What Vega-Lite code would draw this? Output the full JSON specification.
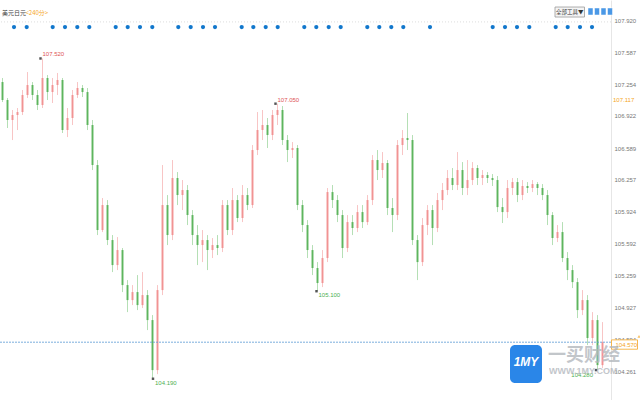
{
  "$schema": "https://vega.github.io/schema/vega-lite/v6.json",
  "width": 611,
  "height": 400,
  "autosize": {"type": "none"},
  "padding": {"left": 0, "top": 0, "right": 29, "bottom": 0},
  "background": "#ffffff",
  "config": {"view": {"stroke": null}, "font": "Liberation Sans, Noto Sans CJK SC", "scale": {"continuousPadding": 0}, "axis": {"labelOverlap": false}},
  "datasets": {
    "one": [{}],
    "k": [
      {"i":0,"o":107.275,"h":107.317,"l":107.067,"c":107.088},
      {"i":1,"o":107.088,"h":107.109,"l":106.797,"c":106.880},
      {"i":2,"o":106.880,"h":106.984,"l":106.672,"c":106.932},
      {"i":3,"o":106.932,"h":107.005,"l":106.776,"c":106.963},
      {"i":4,"o":106.963,"h":107.192,"l":106.932,"c":107.140},
      {"i":5,"o":107.140,"h":107.379,"l":107.109,"c":107.244},
      {"i":6,"o":107.244,"h":107.275,"l":107.088,"c":107.140},
      {"i":7,"o":107.140,"h":107.192,"l":106.984,"c":107.036},
      {"i":8,"o":107.036,"h":107.520,"l":107.005,"c":107.317},
      {"i":9,"o":107.317,"h":107.348,"l":107.088,"c":107.171},
      {"i":10,"o":107.171,"h":107.317,"l":107.057,"c":107.244},
      {"i":11,"o":107.244,"h":107.369,"l":107.140,"c":107.296},
      {"i":12,"o":107.296,"h":107.317,"l":106.745,"c":106.776},
      {"i":13,"o":106.776,"h":107.005,"l":106.703,"c":106.901},
      {"i":14,"o":106.901,"h":107.192,"l":106.828,"c":107.140},
      {"i":15,"o":107.140,"h":107.275,"l":107.109,"c":107.213},
      {"i":16,"o":107.213,"h":107.244,"l":107.119,"c":107.171},
      {"i":17,"o":107.171,"h":107.213,"l":106.776,"c":106.828},
      {"i":18,"o":106.828,"h":106.880,"l":106.360,"c":106.412},
      {"i":19,"o":106.412,"h":106.464,"l":105.684,"c":105.736},
      {"i":20,"o":105.736,"h":106.069,"l":105.715,"c":105.996},
      {"i":21,"o":105.996,"h":106.048,"l":105.580,"c":105.632},
      {"i":22,"o":105.632,"h":105.684,"l":105.299,"c":105.372},
      {"i":23,"o":105.372,"h":105.663,"l":105.320,"c":105.528},
      {"i":24,"o":105.528,"h":105.549,"l":105.091,"c":105.164},
      {"i":25,"o":105.164,"h":105.216,"l":104.883,"c":105.008},
      {"i":26,"o":105.008,"h":105.164,"l":104.956,"c":105.091},
      {"i":27,"o":105.091,"h":105.268,"l":104.904,"c":104.956},
      {"i":28,"o":104.956,"h":105.299,"l":104.925,"c":105.060},
      {"i":29,"o":105.060,"h":105.112,"l":104.696,"c":104.800},
      {"i":30,"o":104.800,"h":104.852,"l":104.190,"c":104.280},
      {"i":31,"o":104.280,"h":105.164,"l":104.238,"c":105.112},
      {"i":32,"o":105.112,"h":106.412,"l":105.060,"c":105.996},
      {"i":33,"o":105.996,"h":106.100,"l":105.580,"c":105.684},
      {"i":34,"o":105.684,"h":106.464,"l":105.632,"c":106.277},
      {"i":35,"o":106.277,"h":106.339,"l":105.996,"c":106.100},
      {"i":36,"o":106.100,"h":106.256,"l":105.944,"c":106.152},
      {"i":37,"o":106.152,"h":106.204,"l":105.788,"c":105.892},
      {"i":38,"o":105.892,"h":105.944,"l":105.580,"c":105.684},
      {"i":39,"o":105.684,"h":105.788,"l":105.372,"c":105.580},
      {"i":40,"o":105.580,"h":105.736,"l":105.403,"c":105.632},
      {"i":41,"o":105.632,"h":105.684,"l":105.320,"c":105.528},
      {"i":42,"o":105.528,"h":105.653,"l":105.445,"c":105.580},
      {"i":43,"o":105.580,"h":105.684,"l":105.476,"c":105.549},
      {"i":44,"o":105.549,"h":106.048,"l":105.507,"c":105.996},
      {"i":45,"o":105.996,"h":106.048,"l":105.684,"c":105.736},
      {"i":46,"o":105.736,"h":106.173,"l":105.684,"c":106.048},
      {"i":47,"o":106.048,"h":106.100,"l":105.819,"c":105.861},
      {"i":48,"o":105.861,"h":106.204,"l":105.819,"c":106.100},
      {"i":49,"o":106.100,"h":106.173,"l":105.944,"c":105.996},
      {"i":50,"o":105.996,"h":106.620,"l":105.965,"c":106.568},
      {"i":51,"o":106.568,"h":106.963,"l":106.516,"c":106.776},
      {"i":52,"o":106.776,"h":106.984,"l":106.672,"c":106.828},
      {"i":53,"o":106.828,"h":106.901,"l":106.589,"c":106.724},
      {"i":54,"o":106.724,"h":106.984,"l":106.672,"c":106.932},
      {"i":55,"o":106.932,"h":107.050,"l":106.828,"c":106.984},
      {"i":56,"o":106.984,"h":107.026,"l":106.620,"c":106.672},
      {"i":57,"o":106.672,"h":106.724,"l":106.443,"c":106.568},
      {"i":58,"o":106.568,"h":106.651,"l":106.485,"c":106.589},
      {"i":59,"o":106.589,"h":106.620,"l":105.944,"c":105.996},
      {"i":60,"o":105.996,"h":106.048,"l":105.715,"c":105.788},
      {"i":61,"o":105.788,"h":105.840,"l":105.445,"c":105.528},
      {"i":62,"o":105.528,"h":105.580,"l":105.268,"c":105.341},
      {"i":63,"o":105.341,"h":105.403,"l":105.100,"c":105.185},
      {"i":64,"o":105.185,"h":105.528,"l":105.143,"c":105.445},
      {"i":65,"o":105.445,"h":106.173,"l":105.403,"c":106.131},
      {"i":66,"o":106.131,"h":106.204,"l":105.965,"c":106.048},
      {"i":67,"o":106.048,"h":106.100,"l":105.819,"c":105.892},
      {"i":68,"o":105.892,"h":105.944,"l":105.445,"c":105.549},
      {"i":69,"o":105.549,"h":105.892,"l":105.507,"c":105.819},
      {"i":70,"o":105.819,"h":105.892,"l":105.684,"c":105.757},
      {"i":71,"o":105.757,"h":105.996,"l":105.715,"c":105.923},
      {"i":72,"o":105.923,"h":105.996,"l":105.757,"c":105.819},
      {"i":73,"o":105.819,"h":106.100,"l":105.788,"c":106.048},
      {"i":74,"o":106.048,"h":106.516,"l":105.996,"c":106.464},
      {"i":75,"o":106.464,"h":106.568,"l":106.256,"c":106.360},
      {"i":76,"o":106.360,"h":106.547,"l":106.277,"c":106.433},
      {"i":77,"o":106.433,"h":106.464,"l":105.892,"c":105.965},
      {"i":78,"o":105.965,"h":106.069,"l":105.715,"c":105.892},
      {"i":79,"o":105.892,"h":106.672,"l":105.840,"c":106.620},
      {"i":80,"o":106.620,"h":106.776,"l":106.516,"c":106.693},
      {"i":81,"o":106.693,"h":106.953,"l":106.568,"c":106.672},
      {"i":82,"o":106.672,"h":106.724,"l":105.580,"c":105.632},
      {"i":83,"o":105.632,"h":105.684,"l":105.216,"c":105.403},
      {"i":84,"o":105.403,"h":105.861,"l":105.362,"c":105.788},
      {"i":85,"o":105.788,"h":105.996,"l":105.684,"c":105.944},
      {"i":86,"o":105.944,"h":105.996,"l":105.580,"c":105.757},
      {"i":87,"o":105.757,"h":106.121,"l":105.715,"c":106.048},
      {"i":88,"o":106.048,"h":106.225,"l":105.944,"c":106.152},
      {"i":89,"o":106.152,"h":106.360,"l":106.100,"c":106.277},
      {"i":90,"o":106.277,"h":106.381,"l":106.152,"c":106.204},
      {"i":91,"o":106.204,"h":106.547,"l":106.152,"c":106.360},
      {"i":92,"o":106.360,"h":106.443,"l":106.100,"c":106.173},
      {"i":93,"o":106.173,"h":106.464,"l":106.100,"c":106.256},
      {"i":94,"o":106.256,"h":106.443,"l":106.204,"c":106.381},
      {"i":95,"o":106.381,"h":106.412,"l":106.204,"c":106.277},
      {"i":96,"o":106.277,"h":106.360,"l":106.204,"c":106.308},
      {"i":97,"o":106.308,"h":106.339,"l":106.225,"c":106.277},
      {"i":98,"o":106.277,"h":106.318,"l":106.194,"c":106.256},
      {"i":99,"o":106.256,"h":106.298,"l":105.923,"c":105.975},
      {"i":100,"o":105.975,"h":106.069,"l":105.809,"c":105.923},
      {"i":101,"o":105.923,"h":106.256,"l":105.861,"c":106.173},
      {"i":102,"o":106.173,"h":106.277,"l":106.100,"c":106.235},
      {"i":103,"o":106.235,"h":106.277,"l":106.027,"c":106.100},
      {"i":104,"o":106.100,"h":106.256,"l":106.048,"c":106.194},
      {"i":105,"o":106.194,"h":106.235,"l":106.121,"c":106.173},
      {"i":106,"o":106.173,"h":106.256,"l":106.131,"c":106.214},
      {"i":107,"o":106.214,"h":106.235,"l":106.100,"c":106.173},
      {"i":108,"o":106.173,"h":106.214,"l":106.048,"c":106.100},
      {"i":109,"o":106.100,"h":106.152,"l":105.788,"c":105.892},
      {"i":110,"o":105.892,"h":105.923,"l":105.580,"c":105.653},
      {"i":111,"o":105.653,"h":105.788,"l":105.611,"c":105.715},
      {"i":112,"o":105.715,"h":105.819,"l":105.403,"c":105.445},
      {"i":113,"o":105.445,"h":105.507,"l":105.216,"c":105.320},
      {"i":114,"o":105.320,"h":105.372,"l":105.133,"c":105.195},
      {"i":115,"o":105.195,"h":105.237,"l":104.821,"c":104.904},
      {"i":116,"o":104.904,"h":105.112,"l":104.852,"c":105.008},
      {"i":117,"o":105.008,"h":105.060,"l":104.540,"c":104.613},
      {"i":118,"o":104.613,"h":104.883,"l":104.540,"c":104.800},
      {"i":119,"o":104.800,"h":104.852,"l":104.280,"c":104.332},
      {"i":120,"o":104.332,"h":104.779,"l":104.301,"c":104.570}
    ],
    "ev": [
      {"i":2.3},{"i":4.84},{"i":10.04},{"i":12.5},{"i":14.96},{"i":17.36},
      {"i":22.64},{"i":25.04},{"i":27.5},{"i":29.96},{"i":35.16},{"i":37.64},
      {"i":40.1},{"i":42.5},{"i":47.84},{"i":50.16},{"i":52.64},{"i":55.04},
      {"i":60.36},{"i":62.76},{"i":65.24},{"i":67.64},{"i":72.96},{"i":75.36},
      {"i":77.76},{"i":80.16},{"i":85.5},{"i":98.04},{"i":100.5},{"i":102.9},
      {"i":105.36},{"i":110.64},{"i":113.04},{"i":115.5},{"i":117.9}
    ],
    "ann": [
      {"i":7.6,"v":107.520,"t":"107.520","kind":"high"},
      {"i":54.6,"v":107.050,"t":"107.050","kind":"high"},
      {"i":30.1,"v":104.190,"t":"104.190","kind":"low"},
      {"i":62.8,"v":105.100,"t":"105.100","kind":"low"},
      {"i":118.7,"v":104.280,"t":"104.280","kind":"lowL"}
    ],
    "icons": [
      {"a":117.1,"b":118.1},{"a":118.4,"b":119.4},{"a":119.7,"b":120.7},{"a":121.0,"b":122.0}
    ]
  },
  "layer": [
    {
      "data": {"name": "k"},
      "mark": {"type": "rule", "strokeWidth": 1, "opacity": 0.45},
      "encoding": {
        "x": {"field": "i", "type": "quantitative", "scale": {"domain": [-0.5, 121.7], "nice": false, "zero": false, "padding": 0}, "axis": null},
        "y": {"field": "l", "type": "quantitative", "title": null,
              "scale": {"domain": [103.969, 108.128], "nice": false, "zero": false},
              "axis": {"orient": "right", "values": [104.261, 104.594, 104.927, 105.259, 105.592, 105.924, 106.257, 106.589, 106.922, 107.254, 107.587, 107.92],
                       "tickCount": 30,
                       "format": ".3f", "labelFontSize": 6, "labelColor": "#777777", "ticks": false, "grid": false, "labelOverlap": false, "labelBound": false,
                       "domainColor": "#e6e6e6", "labelPadding": 3, "labelBaseline": "middle", "title": null}},
        "y2": {"field": "h"},
        "color": {"condition": {"test": "datum.c >= datum.o", "value": "#ef7f7f"}, "value": "#5cb85c"}
      }
    },
    {
      "data": {"name": "k"},
      "mark": {"type": "bar", "width": 2, "opacity": 0.85},
      "encoding": {
        "x": {"field": "i", "type": "quantitative"},
        "y": {"field": "o", "type": "quantitative", "title": null},
        "y2": {"field": "c"},
        "color": {"condition": {"test": "datum.c >= datum.o", "value": "#f08a8a"}, "value": "#4fae4f"}
      }
    },
    {
      "data": {"name": "one"},
      "mark": {"type": "rule", "color": "#dddddd", "strokeDash": [1, 2], "strokeWidth": 1},
      "encoding": {"y": {"datum": 107.9}}
    },
    {
      "data": {"name": "one"},
      "mark": {"type": "rule", "color": "#5b9bd5", "strokeDash": [2, 1], "strokeWidth": 1, "opacity": 0.8},
      "encoding": {"y": {"datum": 104.57}}
    },
    {
      "data": {"name": "ev"},
      "mark": {"type": "circle", "size": 18, "color": "#1177cc", "opacity": 1},
      "encoding": {"x": {"field": "i", "type": "quantitative"}, "y": {"datum": 107.847}}
    },
    {
      "data": {"name": "ann"},
      "mark": {"type": "square", "size": 6, "color": "#555555", "opacity": 1},
      "encoding": {"x": {"field": "i", "type": "quantitative"}, "y": {"field": "v", "type": "quantitative", "title": null}}
    },
    {
      "data": {"name": "ann"},
      "transform": [{"filter": "datum.kind == 'high'"}],
      "mark": {"type": "text", "align": "left", "baseline": "middle", "dx": 2, "dy": -4, "fontSize": 6, "color": "#e05555"},
      "encoding": {"x": {"field": "i", "type": "quantitative"}, "y": {"field": "v", "type": "quantitative", "title": null}, "text": {"field": "t"}}
    },
    {
      "data": {"name": "ann"},
      "transform": [{"filter": "datum.kind == 'low'"}],
      "mark": {"type": "text", "align": "left", "baseline": "middle", "dx": 2, "dy": 4, "fontSize": 6, "color": "#4caf50"},
      "encoding": {"x": {"field": "i", "type": "quantitative"}, "y": {"field": "v", "type": "quantitative", "title": null}, "text": {"field": "t"}}
    },
    {
      "data": {"name": "ann"},
      "transform": [{"filter": "datum.kind == 'lowL'"}],
      "mark": {"type": "text", "align": "right", "baseline": "middle", "dx": -3, "dy": 5, "fontSize": 6, "color": "#4caf50"},
      "encoding": {"x": {"field": "i", "type": "quantitative"}, "y": {"field": "v", "type": "quantitative", "title": null}, "text": {"field": "t"}}
    },
    {
      "data": {"name": "one"},
      "mark": {"type": "text", "align": "left", "baseline": "middle", "fontSize": 6, "color": "#444444", "font": "Noto Sans CJK SC", "text": "美元日元"},
      "encoding": {"x": {"datum": -0.1}, "y": {"datum": 107.993}}
    },
    {
      "data": {"name": "one"},
      "mark": {"type": "text", "align": "left", "baseline": "middle", "fontSize": 6, "color": "#f5a623", "font": "Noto Sans CJK SC", "text": "<240分>"},
      "encoding": {"x": {"datum": 4.6}, "y": {"datum": 107.993}}
    },
    {
      "data": {"name": "one"},
      "mark": {"type": "rect", "fill": "#f4f4f4", "stroke": "#9a9a9a", "strokeWidth": 0.8},
      "encoding": {"x": {"datum": 110.5}, "x2": {"datum": 116.4}, "y": {"datum": 108.055}, "y2": {"datum": 107.951}}
    },
    {
      "data": {"name": "one"},
      "mark": {"type": "text", "align": "center", "baseline": "middle", "fontSize": 5.5, "color": "#333333", "font": "Noto Sans CJK SC", "text": "全部工具▼"},
      "encoding": {"x": {"datum": 113.45}, "y": {"datum": 108.003}}
    },
    {
      "data": {"name": "icons"},
      "mark": {"type": "rect", "fill": "#4a98e6", "stroke": "#ffffff", "strokeWidth": 0.5},
      "encoding": {"x": {"field": "a", "type": "quantitative"}, "x2": {"field": "b"}, "y": {"datum": 108.045}, "y2": {"datum": 107.972}}
    },
    {
      "data": {"name": "one"},
      "mark": {"type": "text", "align": "left", "baseline": "middle", "fontSize": 6, "color": "#f5a623", "text": "107.117"},
      "encoding": {"x": {"datum": 122.1}, "y": {"datum": 107.09}}
    },
    {
      "data": {"name": "one"},
      "mark": {"type": "rect", "fill": "#ffffff", "stroke": "#f5a623", "strokeWidth": 0.8},
      "encoding": {"x": {"datum": 121.8}, "x2": {"datum": 127.0}, "y": {"datum": 104.594}, "y2": {"datum": 104.497}}
    },
    {
      "data": {"name": "one"},
      "mark": {"type": "text", "align": "left", "baseline": "middle", "fontSize": 6, "color": "#f5a623", "text": "104.570"},
      "encoding": {"x": {"datum": 122.6}, "y": {"datum": 104.543}}
    },
    {
      "data": {"name": "one"},
      "mark": {"type": "point", "shape": "triangle-up", "size": 10, "filled": true, "color": "#f5a623"},
      "encoding": {"x": {"datum": 127.3}, "y": {"datum": 104.63}}
    },
    {
      "data": {"name": "one"},
      "mark": {"type": "rect", "fill": "#2a86e8", "cornerRadius": 5},
      "encoding": {"x": {"datum": 101.5}, "x2": {"datum": 107.9}, "y": {"datum": 104.54}, "y2": {"datum": 104.145}}
    },
    {
      "data": {"name": "one"},
      "mark": {"type": "text", "align": "center", "baseline": "middle", "fontSize": 12, "fontWeight": "bold", "fontStyle": "italic", "color": "#ffffff", "text": "1MY"},
      "encoding": {"x": {"datum": 104.7}, "y": {"datum": 104.36}}
    },
    {
      "data": {"name": "one"},
      "mark": {"type": "text", "align": "left", "baseline": "middle", "fontSize": 18, "fontWeight": "bold", "color": "#b4b8be", "opacity": 0.8, "font": "Noto Sans CJK SC", "text": "一买财经"},
      "encoding": {"x": {"datum": 109.1}, "y": {"datum": 104.426}}
    },
    {
      "data": {"name": "one"},
      "mark": {"type": "text", "align": "left", "baseline": "middle", "fontSize": 9, "fontWeight": "bold", "color": "#b4b8be", "opacity": 0.8, "text": "WWW.1MY.COM"},
      "encoding": {"x": {"datum": 109.3}, "y": {"datum": 104.27}}
    }
  ]
}
